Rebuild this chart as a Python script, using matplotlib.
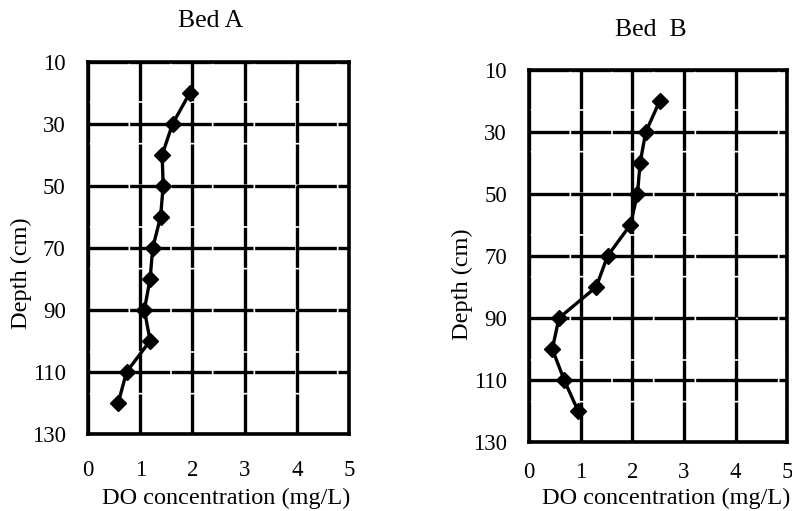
import matplotlib.pyplot as plt

# DO-Profile der beiden Beete
depth = [20, 30, 40, 50, 60, 70, 80, 90, 100, 110, 120]
do_bed_a = [1.95, 1.62, 1.42, 1.44, 1.39, 1.24, 1.19, 1.08, 1.19, 0.74, 0.58]
do_bed_b = [2.53, 2.26, 2.15, 2.10, 1.96, 1.52, 1.30, 0.58, 0.45, 0.68, 0.95]

x_ticks = [0, 1, 2, 3, 4, 5]
y_ticks = [10, 30, 50, 70, 90, 110, 130]

plt.rcParams['font.family'] = ['Liberation Serif', 'DejaVu Serif']

fig = plt.figure(figsize=(7.92, 5.11), dpi=100)
ax_a = fig.add_axes([0.111, 0.151, 0.330, 0.728])
ax_b = fig.add_axes([0.668, 0.135, 0.326, 0.728])


def draw_panel(ax, values, title, ylab_y, xpad, xlabpad):
    ax.plot(values, depth, color='black', linewidth=2.4, marker='D',
            markersize=8.5, markerfacecolor='black', zorder=3)
    ax.set_xlim(0, 5)
    ax.set_ylim(130, 10)
    ax.set_xticks(x_ticks)
    ax.set_yticks(y_ticks)
    ax.grid(True, color='black', linewidth=2.4, linestyle=(0, (12, 0.5)))
    for sp in ax.spines.values():
        sp.set_linewidth(2.6)
    ax.tick_params(axis='both', length=0, labelsize=16.5)
    ax.tick_params(axis='y', pad=16)
    ax.tick_params(axis='x', pad=xpad)
    ax.set_xlabel("DO concentration (mg/L)", fontsize=17.5, labelpad=xlabpad, x=0.53)
    ax.set_ylabel("Depth (cm)", fontsize=17.5, labelpad=0, y=ylab_y)
    ax.set_title(title, fontsize=18.5, y=1.07, x=0.47)


draw_panel(ax_a, do_bed_a, "Bed A", 0.433, 19, 5)
draw_panel(ax_b, do_bed_b, "Bed  B", 0.425, 14.5, 3)

fig.savefig("out.png", dpi=100)
